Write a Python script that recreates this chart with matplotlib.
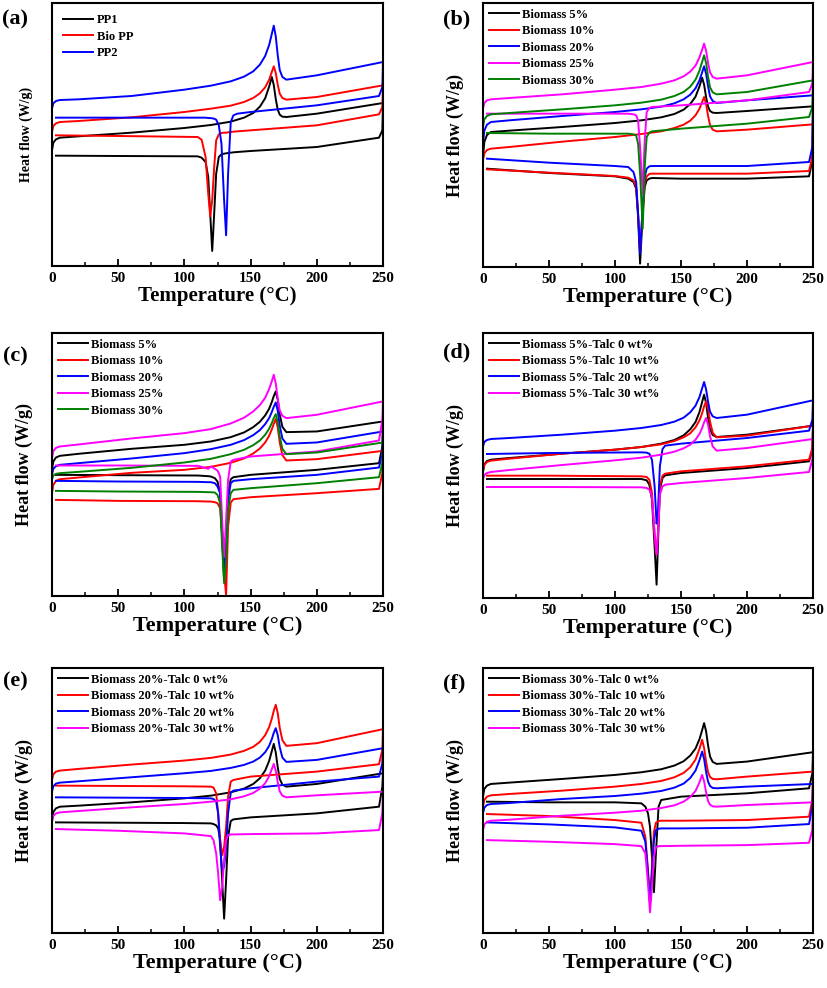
import matplotlib
matplotlib.use('Agg')
import matplotlib.pyplot as plt
from matplotlib.ticker import MultipleLocator

plt.rcParams['font.family'] = ['Liberation Serif', 'DejaVu Serif']
plt.rcParams['font.weight'] = 'bold'

# heat flow in arbitrary units (bigger number = lower on the plot)
# heating scan 0 -> 250 °C, same temperature points for every curve
heat_T = [0, 1, 3, 6, 20, 60, 100, 120, 135, 145, 152, 157, 161, 164, 166, 167.5, 169,
          170.5, 172, 174, 177, 200, 250]

# (a)
a_labels = ['PP1', 'Bio PP', 'PP2']
a_colors = ['black', 'red', 'blue']
a_heat = [
    [450, 427, 417, 412, 408, 397, 383, 374, 364, 352, 338, 319, 294, 259, 230, 254, 296, 328, 343, 349, 350, 340, 308],
    [395, 377, 369, 365, 362, 351, 335, 325, 316, 305, 293, 279, 261, 238, 215, 198, 218, 253, 280, 293, 298, 290, 255],
    [325, 309, 302, 299, 297, 287, 268, 256, 243, 229, 213, 193, 167, 134, 101, 76, 108, 165, 209, 230, 238, 225, 185],
]
a_cool_T = [249.5, 247, 200, 150, 140, 137, 135, 133, 131.5, 130, 128, 126, 124, 122.5, 121, 119.5, 118, 116, 113, 110, 50, 3]
a_cool = [
    [390, 412, 440, 452, 455, 456, 457, 458, 459, 460, 462, 470, 520, 640, 752, 640, 530, 485, 472, 468, 467, 466],
    [320, 342, 375, 390, 393, 394, 395, 396, 397, 397, 398, 402, 420, 500, 600, 648, 580, 470, 418, 410, 407, 405],
    [260, 287, 315, 335, 340, 345, 365, 520, 705, 600, 430, 375, 358, 355, 354, 353, 353, 352, 352, 352, 352, 352],
]

# (b)
b_labels = ['Biomass 5%', 'Biomass 10%', 'Biomass 20%', 'Biomass 25%', 'Biomass 30%']
b_colors = ['black', 'red', 'blue', 'magenta', 'green']
b_heat = [
    [470, 425, 404, 395, 391, 380, 368, 360, 351, 341, 328, 311, 289, 258, 232, 253, 290, 319, 332, 337, 338, 332, 318],
    [480, 459, 449, 445, 440, 424, 410, 401, 393, 383, 373, 361, 345, 325, 305, 290, 311, 347, 374, 388, 393, 388, 372],
    [430, 391, 373, 365, 360, 347, 335, 327, 319, 309, 297, 283, 264, 240, 216, 198, 220, 258, 288, 302, 308, 300, 285],
    [325, 308, 300, 297, 293, 282, 268, 260, 250, 240, 228, 214, 196, 171, 148, 130, 151, 188, 216, 230, 235, 225, 185],
    [380, 357, 347, 342, 338, 327, 315, 307, 298, 287, 275, 259, 238, 211, 185, 165, 188, 229, 261, 276, 282, 275, 240],
]
b_cool_T = [249.5, 247, 200, 150, 128, 126, 124, 122.5, 121, 119, 117.5, 116, 114, 110, 100, 50, 3]
b_cool = [
    [480, 528, 535, 535, 533, 535, 540, 560, 640, 790, 650, 565, 545, 535, 528, 518, 505],
    [470, 512, 520, 520, 520, 521, 528, 550, 620, 755, 640, 560, 540, 532, 527, 517, 507],
    [440, 485, 497, 497, 497, 498, 505, 530, 620, 760, 640, 545, 515, 500, 497, 487, 475],
    [250, 275, 300, 315, 320, 323, 335, 420, 580, 440, 360, 345, 342, 340, 340, 340, 340],
    [320, 350, 370, 385, 393, 397, 410, 500, 685, 520, 430, 405, 402, 400, 400, 400, 398],
]

# (c)
c_labels = ['Biomass 5%', 'Biomass 10%', 'Biomass 20%', 'Biomass 25%', 'Biomass 30%']
c_colors = ['black', 'red', 'blue', 'magenta', 'green']
c_heat = [
    [450, 425, 413, 408, 402, 387, 375, 365, 352, 338, 322, 306, 287, 267, 247, 229, 215, 240, 284, 321, 337, 335, 305],
    [520, 495, 483, 478, 473, 459, 450, 441, 429, 416, 401, 386, 368, 348, 329, 312, 298, 323, 368, 406, 422, 418, 393],
    [465, 447, 439, 435, 430, 416, 400, 388, 375, 361, 346, 331, 313, 295, 277, 261, 248, 273, 318, 356, 372, 368, 335],
    [415, 394, 384, 380, 374, 356, 340, 328, 311, 294, 275, 256, 234, 208, 185, 165, 191, 236, 272, 288, 295, 285, 245],
    [478, 467, 462, 460, 456, 444, 428, 417, 403, 390, 376, 362, 345, 327, 310, 295, 283, 307, 350, 387, 403, 398, 368],
]
c_cool_T = [249.5, 247, 200, 150, 137, 135, 133, 131.5, 130, 128.5, 127, 125, 123, 120, 118, 110, 50, 3]
c_cool = [
    [380, 430, 450, 465, 472, 478, 520, 650, 780, 650, 520, 485, 475, 470, 469, 467, 466, 465],
    [460, 507, 520, 532, 538, 548, 620, 825, 760, 640, 565, 550, 547, 545, 545, 544, 543, 540],
    [400, 443, 465, 478, 483, 490, 540, 680, 760, 640, 520, 500, 490, 487, 487, 486, 485, 483],
    [300, 362, 395, 410, 420, 425, 480, 600, 711, 600, 470, 452, 447, 440, 447, 438, 437, 437],
    [430, 472, 490, 505, 510, 520, 570, 720, 790, 680, 550, 525, 518, 517, 517, 516, 515, 513],
]

# (d)
d_labels = ['Biomass 5%-Talc 0 wt%', 'Biomass 5%-Talc 10 wt%', 'Biomass 5%-Talc 20 wt%', 'Biomass 5%-Talc 30 wt%']
d_colors = ['black', 'red', 'blue', 'magenta']
d_heat = [
    [455, 434, 424, 420, 415, 402, 390, 382, 372, 361, 347, 329, 307, 277, 247, 225, 250, 295, 329, 346, 352, 345, 318],
    [455, 436, 427, 423, 417, 402, 390, 382, 374, 364, 353, 341, 323, 302, 281, 260, 245, 267, 306, 339, 353, 348, 318],
    [380, 367, 361, 358, 355, 345, 333, 325, 316, 306, 294, 278, 258, 232, 206, 187, 209, 246, 276, 290, 295, 285, 242],
    [480, 466, 460, 457, 451, 436, 422, 414, 405, 396, 386, 375, 360, 343, 325, 308, 295, 315, 350, 380, 393, 385, 358],
]
d_cool_T = [249.5, 247, 200, 150, 138, 136, 134, 132.5, 131.5, 130, 128, 126, 124, 120, 50, 3]
d_cool = [
    [390, 425, 445, 460, 467, 475, 510, 680, 795, 680, 540, 495, 482, 478, 478, 478],
    [385, 420, 440, 455, 462, 468, 500, 640, 705, 650, 520, 480, 472, 470, 468, 468],
    [300, 333, 355, 372, 378, 388, 440, 580, 612, 500, 420, 402, 399, 398, 400, 403],
    [420, 457, 475, 490, 495, 500, 525, 650, 705, 640, 530, 510, 505, 503, 502, 502],
]

# (e)
e_labels = ['Biomass 20%-Talc 0 wt%', 'Biomass 20%-Talc 10 wt%', 'Biomass 20%-Talc 20 wt%', 'Biomass 20%-Talc 30 wt%']
e_colors = ['black', 'red', 'blue', 'magenta']
e_heat = [
    [540, 516, 505, 500, 497, 487, 475, 467, 457, 446, 432, 415, 392, 363, 334, 312, 338, 382, 417, 434, 440, 432, 400],
    [420, 403, 395, 392, 387, 374, 362, 354, 344, 333, 321, 306, 286, 262, 237, 213, 195, 220, 264, 301, 318, 310, 268],
    [455, 439, 431, 428, 424, 412, 400, 393, 384, 375, 365, 353, 337, 318, 298, 279, 265, 286, 322, 353, 366, 360, 325],
    [545, 528, 520, 517, 513, 502, 492, 485, 478, 469, 459, 446, 430, 409, 388, 372, 392, 427, 454, 467, 472, 466, 455],
]
e_cool_T = [249.5, 247, 200, 150, 137, 135, 133, 131.5, 130, 128.5, 127, 125.5, 124, 122, 120, 100, 50, 3]
e_cool = [
    [440, 500, 520, 532, 538, 543, 590, 720, 835, 720, 600, 565, 556, 552, 550, 549, 548, 547],
    [330, 373, 395, 410, 420, 425, 470, 560, 620, 645, 600, 520, 460, 443, 440, 439, 438, 437],
    [370, 410, 425, 445, 452, 458, 520, 620, 680, 690, 620, 520, 485, 477, 475, 474, 473, 472],
    [520, 570, 580, 582, 583, 583, 585, 600, 660, 740, 780, 700, 640, 600, 588, 580, 572, 567],
]

# (f)
f_labels = ['Biomass 30%-Talc 0 wt%', 'Biomass 30%-Talc 10 wt%', 'Biomass 30%-Talc 20 wt%', 'Biomass 30%-Talc 30 wt%']
f_colors = ['black', 'red', 'blue', 'magenta']
f_heat = [
    [470, 447, 437, 432, 428, 417, 405, 397, 388, 377, 364, 347, 326, 298, 271, 250, 274, 317, 350, 366, 372, 365, 337],
    [500, 480, 470, 466, 462, 452, 440, 432, 423, 412, 399, 382, 359, 327, 300, 324, 365, 397, 411, 417, 418, 410, 395],
    [520, 503, 495, 492, 489, 477, 468, 461, 453, 443, 431, 414, 392, 361, 335, 357, 396, 425, 438, 444, 445, 440, 432],
    [570, 553, 545, 542, 539, 527, 518, 512, 504, 496, 485, 471, 453, 427, 405, 424, 457, 483, 494, 499, 500, 495, 487],
]
f_cool_T = [249.5, 247, 200, 150, 135, 133, 131, 129.5, 128, 126.5, 125, 123, 120, 100, 50, 3]
f_cool = [
    [400, 445, 460, 470, 480, 500, 640, 756, 650, 560, 520, 500, 490, 487, 487, 485],
    [480, 530, 540, 542, 542, 543, 548, 575, 680, 780, 690, 590, 548, 540, 528, 522],
    [500, 552, 563, 565, 565, 566, 570, 600, 700, 790, 700, 605, 572, 562, 553, 547],
    [570, 608, 615, 617, 618, 618, 622, 650, 740, 816, 730, 640, 618, 612, 605, 600],
]

W, H = 827, 988
fig = plt.figure(figsize=(W / 100, H / 100), dpi=100)


def box(l, r, t, b):
    return [l / W, 1 - b / H, (r - l) / W, (b - t) / H]


def draw(rect, tag, tag_xy, labels, colors, heat, cool_T, cool, ylim,
         leg_pad=0.25, ylab_size=13, xlab_size=16):
    ax = fig.add_axes(rect)
    for lab, col, h, c in zip(labels, colors, heat, cool):
        # heating and cooling drawn as one trace, like the instrument export
        ax.plot(heat_T + cool_T, h + c, color=col, lw=1.4, label=lab)
    ax.set_xlim(0, 250)
    ax.set_ylim(*ylim)
    ax.set_yticks([])
    ax.xaxis.set_major_locator(MultipleLocator(50))
    ax.xaxis.set_minor_locator(MultipleLocator(25))
    ax.tick_params(axis='x', which='major', direction='in', length=5, width=1.3,
                   labelsize=11, pad=4)
    ax.tick_params(axis='x', which='minor', direction='in', length=3, width=1.1)
    for s in ax.spines.values():
        s.set_linewidth(1.5)
    ax.set_xlabel('Temperature (°C)', fontsize=xlab_size, fontweight='bold', labelpad=1)
    ax.set_ylabel('Heat flow (W/g)', fontsize=ylab_size, fontweight='bold', labelpad=14)
    ax.legend(loc='upper left', frameon=False, fontsize=9, handlelength=2.4,
              handletextpad=0.3, labelspacing=0.36, borderaxespad=leg_pad,
              borderpad=0.2)
    fig.text(tag_xy[0] / W, 1 - tag_xy[1] / H, tag, fontsize=16, fontweight='bold',
             ha='center', va='center')
    return ax


draw(box(52, 383, 3, 266), '(a)', (15, 19), a_labels, a_colors, a_heat, a_cool_T, a_cool,
     (797, 8), leg_pad=0.7, ylab_size=10, xlab_size=15)
draw(box(483, 813, 3, 267), '(b)', (457, 19), b_labels, b_colors, b_heat, b_cool_T, b_cool,
     (800, 8))
draw(box(52, 383, 333, 596), '(c)', (15, 356), c_labels, c_colors, c_heat, c_cool_T, c_cool,
     (828, 40))
draw(box(483, 813, 333, 598), '(d)', (457, 352), d_labels, d_colors, d_heat, d_cool_T, d_cool,
     (835, 40))
draw(box(52, 383, 668, 933), '(e)', (15, 681), e_labels, e_colors, e_heat, e_cool_T, e_cool,
     (878, 85))
draw(box(483, 813, 668, 933), '(f)', (454, 683), f_labels, f_colors, f_heat, f_cool_T, f_cool,
     (878, 85))

fig.savefig('out.png', dpi=100)
